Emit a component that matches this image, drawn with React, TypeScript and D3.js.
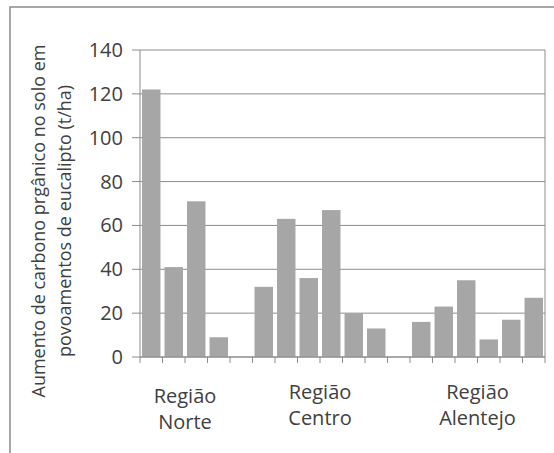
import React from "react";
import * as d3 from "d3";

const values: (number | null)[] = [122, 41, 71, 9, null, 32, 63, 36, 67, 20, 13, null, 16, 23, 35, 8, 17, 27];
const groupNames: string[][] = [["Região", "Norte"], ["Região", "Centro"], ["Região", "Alentejo"]];
const groupStart: number[] = [0, 5, 12];
const groupEnd: number[] = [3, 10, 17];
const yTicks: number[] = [0, 20, 40, 60, 80, 100, 120, 140];
const titleLines: string[] = ["Aumento de carbono prgânico no solo em", "povoamentos de eucalipto (t/ha)"];

const W = 554, H = 453;
const L = 140, R = 545, T = 50, B = 357;
const FONT = "'Open Sans', 'Liberation Sans', sans-serif";
const TXT = "#404040";
const GRID = "#8c8c8c";

export default function App() {
  const idx = values.map((_, i) => i);
  const x = d3.scaleBand<number>().domain(idx).range([L, R]).paddingInner(0.18).paddingOuter(0.09);
  const step = (R - L) / values.length;
  const y = d3.scaleLinear().domain([0, 140]).range([B, T]);
  const tickXs = d3.range(values.length + 1).map((i) => L + i * step);

  return (
    <svg width={W} height={H} style={{ position: "absolute", left: 0, top: 0, background: "#fff" }}>
      <rect x={10} y={7} width={700} height={600} fill="#fff" stroke="#8a8a8a" strokeWidth={1.5} />
      {yTicks.map((t) => (
        <g key={t}>
          <line x1={L - 8} x2={R} y1={y(t)} y2={y(t)} stroke={GRID} strokeWidth={1} />
          <text x={123} y={y(t)} dy="0.35em" textAnchor="end" fontFamily={FONT} fontSize={20} fill={TXT}>{t}</text>
        </g>
      ))}
      <line x1={R} x2={R} y1={T} y2={B} stroke={GRID} strokeWidth={1} />
      {values.map((v, i) =>
        v == null ? null : (
          <rect key={i} x={x(i)} y={y(v)} width={x.bandwidth()} height={B - y(v)} fill="#a6a6a6" />
        )
      )}
      <line x1={L} x2={L} y1={T} y2={B} stroke={GRID} strokeWidth={1} />
      <line x1={L} x2={R} y1={B} y2={B} stroke={GRID} strokeWidth={1} />
      {tickXs.map((tx, i) => (
        <line key={i} x1={tx} x2={tx} y1={B} y2={B + 6} stroke={GRID} strokeWidth={1} />
      ))}
      {groupNames.map((g, gi) => {
        const cx = (L + groupStart[gi] * step + L + (groupEnd[gi] + 1) * step) / 2;
        return (
          <text key={gi} x={cx} y={gi === 0 ? 403 : 399} textAnchor="middle" fontFamily={FONT} fontSize={20} fill={TXT}>
            <tspan x={cx}>{g[0]}</tspan>
            <tspan x={cx} dy={26}>{g[1]}</tspan>
          </text>
        );
      })}
      <text transform="translate(0,221) rotate(-90)" textAnchor="middle" fontFamily={FONT} fontSize={18} fill={TXT}>
        <tspan x={0} y={45}>{titleLines[0]}</tspan>
        <tspan x={0} y={71}>{titleLines[1]}</tspan>
      </text>
    </svg>
  );
}
